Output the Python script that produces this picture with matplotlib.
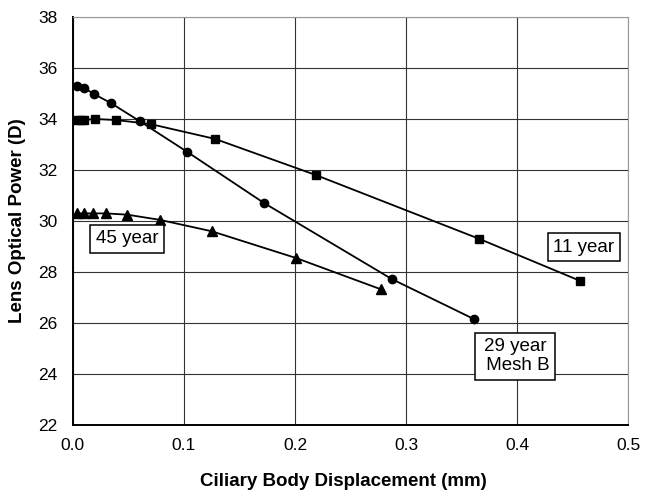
import numpy as np
import matplotlib
matplotlib.use("Agg")
from matplotlib import pyplot as plt

plt.rcParams['font.family'] = ['Liberation Sans', 'DejaVu Sans']

# 29 year (Mesh B) - circles
x29 = [0.0036, 0.0099, 0.019, 0.034, 0.060, 0.103, 0.172, 0.287, 0.361]
y29 = [35.29, 35.22, 34.98, 34.63, 33.92, 32.71, 30.71, 27.73, 26.16]

# 11 year - squares
x11 = [0.0027, 0.0072, 0.0099, 0.020, 0.039, 0.070, 0.128, 0.219, 0.366, 0.457]
y11 = [33.96, 33.96, 33.96, 34.0, 33.96, 33.8, 33.22, 31.8, 29.3, 27.65]

# 45 year - triangles
x45 = [0.0033, 0.010, 0.018, 0.030, 0.049, 0.078, 0.125, 0.201, 0.277]
y45 = [30.3, 30.3, 30.3, 30.3, 30.25, 30.05, 29.6, 28.55, 27.33]

xticks = [0.0, 0.1, 0.2, 0.3, 0.4, 0.5]
xtick_labels = ['0.0', '0.1', '0.2', '0.3', '0.4', '0.5']
yticks = [22, 24, 26, 28, 30, 32, 34, 36, 38]

fig = plt.figure(figsize=(6.45, 4.99), dpi=100)
ax = fig.add_axes([0.113, 0.148, 0.861, 0.818])  # [left, bottom, width, height]

ax.plot(x29, y29, color='black', linewidth=1.3, marker='o', markersize=6)
ax.plot(x11, y11, color='black', linewidth=1.3, marker='s', markersize=6)
ax.plot(x45, y45, color='black', linewidth=1.3, marker='^', markersize=7)

ax.set_xlim(0, 0.5)
ax.set_ylim(22, 38)
ax.set_xticks(xticks)
ax.set_xticklabels(xtick_labels)
ax.set_yticks(yticks)
ax.tick_params(length=0, labelsize=12.5, pad=9)
ax.tick_params(axis='y', pad=11)
ax.grid(True, color='#333333', linewidth=0.8)
ax.set_axisbelow(True)

for side in ['top', 'right']:
    ax.spines[side].set_color('#999999')
    ax.spines[side].set_linewidth(0.8)
for side in ['left', 'bottom']:
    ax.spines[side].set_color('black')
    ax.spines[side].set_linewidth(1.4)

box = dict(boxstyle='square,pad=0.3', facecolor='white', edgecolor='black', linewidth=1.1)
ax.text(0.460, 28.98, '11 year', fontsize=13.5, ha='center', va='center', bbox=box)
ax.text(0.398, 24.7, '29 year\n Mesh B', fontsize=13.5, ha='center', va='center', bbox=box, linespacing=1.15)
ax.text(0.049, 29.3, '45 year', fontsize=13.5, ha='center', va='center', bbox=box)

ax.set_xlabel('Ciliary Body Displacement (mm)', fontsize=13.5, fontweight='bold')
ax.xaxis.set_label_coords(0.487, -0.118)
ax.set_ylabel('Lens Optical Power (D)', fontsize=13.5, fontweight='bold', labelpad=9)

plt.savefig("out.png", dpi=100)
